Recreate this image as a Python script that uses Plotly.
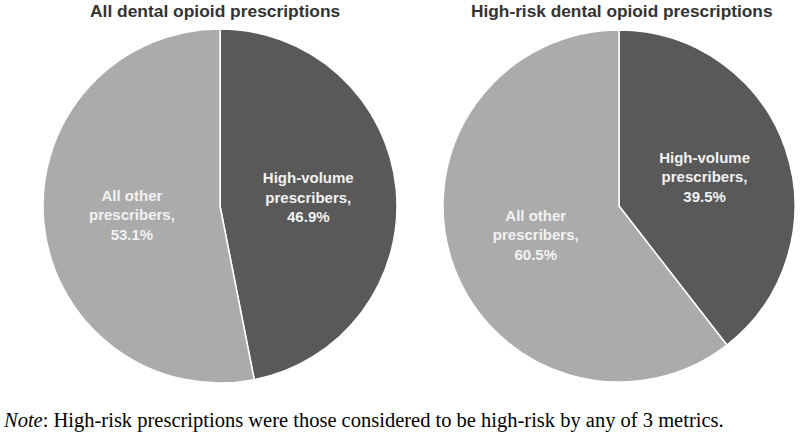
import plotly.graph_objects as go

labels = ["High-volume prescribers", "All other prescribers"]
label_text = ["High-volume<br>prescribers,", "All other<br>prescribers,"]
all_values = [46.9, 53.1]
highrisk_values = [39.5, 60.5]
titles = ["All dental opioid prescriptions", "High-risk dental opioid prescriptions"]
note = "<i>Note</i>: High-risk prescriptions were those considered to be high-risk by any of 3 metrics."
colors = ["#595959", "#ababab"]

W, H = 800, 433
fig = go.Figure()
domains = [dict(x=[43 / W, 397 / W], y=[1 - 383 / H, 1 - 29 / H]),
           dict(x=[443 / W, 795 / W], y=[1 - 383 / H, 1 - 29 / H])]
for vals, dom in zip([all_values, highrisk_values], domains):
    fig.add_trace(go.Pie(
        labels=labels, values=vals, text=label_text,
        texttemplate="<b>%{text}<br>%{value:.1f}%</b>",
        textposition="inside", insidetextorientation="horizontal",
        textfont=dict(family="Arial, Liberation Sans", size=15, color="#f2f2f2"),
        marker=dict(colors=colors, line=dict(color="white", width=1.5)),
        sort=False, direction="clockwise", rotation=0,
        domain=dom, showlegend=False, hoverinfo="label+value",
    ))

for t, cx, fs in zip(titles, [215, 622], [17.4, 17.3]):
    fig.add_annotation(text="<b>" + t + "</b>", x=cx / W, y=1 - 11 / H, xref="paper", yref="paper",
                       xanchor="center", yanchor="middle", showarrow=False,
                       font=dict(family="Arial, Liberation Sans", size=fs, color="#333333"))
fig.add_annotation(text=note, x=1 / W, y=1 - 420 / H, xref="paper", yref="paper",
                   xanchor="left", yanchor="middle", showarrow=False,
                   font=dict(family="Liberation Serif, Times New Roman", size=20.5, color="#000000"))

fig.update_layout(width=W, height=H, margin=dict(l=0, r=0, t=0, b=0),
                  paper_bgcolor="white", plot_bgcolor="white")
fig.write_html("out.html", config={"displayModeBar": False},
               post_script="document.body.style.margin='0';")
